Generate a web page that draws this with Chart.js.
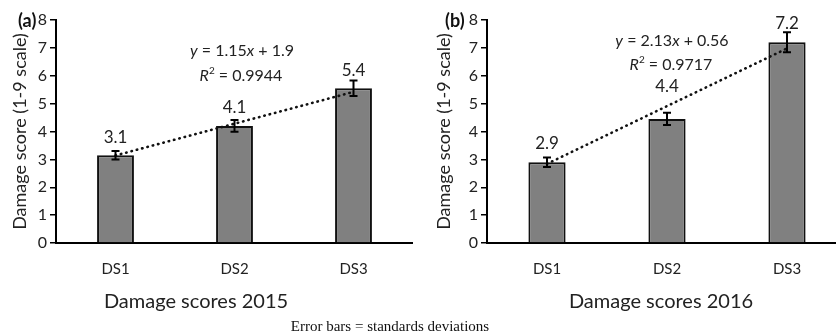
<!DOCTYPE html>
<html>
<head>
<meta charset="utf-8">
<script src="https://cdn.jsdelivr.net/npm/chart.js@4"></script>
<style>
  html, body { margin:0; padding:0; width:836px; height:336px; overflow:hidden; background:#fff; font-family:Lato, sans-serif; }
  .box { position:absolute; top:0; height:336px; }
  .t { position:absolute; white-space:nowrap; color:#222; line-height:1; transform:translate(-50%,-50%); }
  .lt { position:absolute; white-space:nowrap; color:#111; line-height:1; font-weight:bold; font-size:18px; }
  .eq { font-size:16px; }
  .xt { font-size:20px; }
  .note { font-family:"Liberation Serif", serif; font-size:15px; color:#111; }
</style>
</head>
<body>
<div class="box" style="left:0;width:413px"><canvas id="c2015"></canvas></div>
<div class="box" style="left:431px;width:416px"><canvas id="c2016"></canvas></div>

<div class="lt" style="left:18px;top:11px">(a)</div>
<div class="lt" style="left:445px;top:11px">(b)</div>

<div class="t eq" style="left:242px;top:50px"><i>y</i> = 1.15<i>x</i> + 1.9</div>
<div class="t eq" style="left:241px;top:74px"><i>R</i><sup style="font-size:10px">2</sup> = 0.9944</div>
<div class="t eq" style="left:672px;top:40px"><i>y</i> = 2.13<i>x</i> + 0.56</div>
<div class="t eq" style="left:671px;top:63px"><i>R</i><sup style="font-size:10px">2</sup> = 0.9717</div>

<div class="t xt" style="left:196px;top:300px">Damage scores 2015</div>
<div class="t xt" style="left:661px;top:300px">Damage scores 2016</div>
<div class="t note" style="left:390px;top:326px">Error bars = standards deviations</div>

<script>
// categories + ticks
const categories = ['DS1', 'DS2', 'DS3'];
const yTicks = [0, 1, 2, 3, 4, 5, 6, 7, 8];

// 2015 panel
const scores2015 = [3.15, 4.2, 5.55];
const sd2015 = [0.15, 0.21, 0.28];
const labels2015 = ['3.1', '4.1', '5.4'];
const trend2015 = [3.14, 4.28, 5.42];

// 2016 panel
const scores2016 = [2.9, 4.45, 7.2];
const sd2016 = [0.17, 0.22, 0.36];
const labels2016 = ['2.9', '4.4', '7.2'];
const trend2016 = [2.84, 4.91, 6.98];

// error bars + value labels drawn on top of the bars
const barExtras = {
  id: 'barExtras',
  afterDatasetsDraw(chart, args, opts) {
    const ctx = chart.ctx;
    const y = chart.scales.y;
    const meta = chart.getDatasetMeta(1);
    ctx.save();
    meta.data.forEach((bar, i) => {
      const v = opts.values[i], e = opts.sd[i];
      const top = y.getPixelForValue(v + e), bot = y.getPixelForValue(v - e);
      ctx.strokeStyle = '#000';
      ctx.lineWidth = 2;
      ctx.beginPath();
      ctx.moveTo(bar.x, top); ctx.lineTo(bar.x, bot);
      ctx.moveTo(bar.x - 4, top); ctx.lineTo(bar.x + 4, top);
      ctx.moveTo(bar.x - 4, bot); ctx.lineTo(bar.x + 4, bot);
      ctx.stroke();
      ctx.fillStyle = '#222';
      ctx.font = '17px Lato';
      ctx.textAlign = 'center';
      ctx.textBaseline = 'middle';
      ctx.fillText(opts.labels[i], bar.x, bar.y - opts.offsets[i]);
    });
    ctx.restore();
  }
};

function makeChart(id, scores, sd, labels, trend, offsets, titlePad) {
  return new Chart(document.getElementById(id), {
    type: 'bar',
    data: {
      labels: categories,
      datasets: [
        { type: 'line', data: trend, order: 0, borderColor: '#111', borderWidth: 2.6,
          borderDash: [0.5, 5], borderCapStyle: 'round', pointRadius: 0, fill: false },
        { data: scores, order: 1, backgroundColor: '#808080', borderColor: '#111', borderWidth: 2,
          categoryPercentage: 1, barPercentage: 0.31 }
      ]
    },
    options: {
      responsive: true, maintainAspectRatio: false, animation: false,
      layout: { padding: { top: 20, left: 0, right: 0, bottom: 0 } },
      plugins: {
        legend: { display: false }, tooltip: { enabled: false },
        barExtras: { values: scores, sd: sd, labels: labels, offsets: offsets }
      },
      scales: {
        x: {
          afterFit: s => { s.height = 93; },
          grid: { drawOnChartArea: false, drawTicks: false },
          border: { color: '#000', width: 2 },
          ticks: { color: '#222', font: { family: 'Lato', size: 15 }, padding: 17 }
        },
        y: {
          min: 0, max: 8,
          afterFit: s => { s.width = 56; },
          afterBuildTicks: s => { s.ticks = yTicks.map(v => ({ value: v })); },
          grid: { drawOnChartArea: false, drawTicks: true, tickLength: 6, color: '#000', lineWidth: 1.5 },
          border: { color: '#000', width: 2 },
          ticks: { color: '#222', font: { family: 'Lato', size: 16 }, padding: 3 },
          title: { display: true, text: 'Damage score (1-9 scale)', color: '#222',
                   font: { family: 'Lato', size: 18 }, padding: { top: titlePad, bottom: 0 } }
        }
      }
    },
    plugins: [barExtras]
  });
}

makeChart('c2015', scores2015, sd2015, labels2015, trend2015, [18, 18, 18], 9);
makeChart('c2016', scores2016, sd2016, labels2016, trend2016, [19, 32, 19], 2);
</script>
</body>
</html>
